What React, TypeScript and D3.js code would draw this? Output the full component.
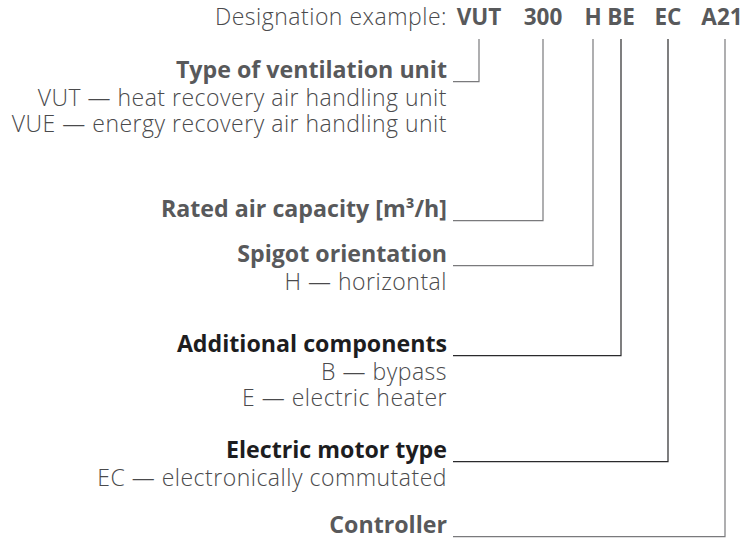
import { useMemo } from "react"
import * as d3 from "d3"

// designation string, split into the parts the connectors point at
const designationLabel = "Designation example:"
const codeParts = ["VUT", "300", "H", "BE", "EC", "A21"]

// one heading per code part, same order
const headings = [
  "Type of ventilation unit",
  "Rated air capacity [m³/h]",
  "Spigot orientation",
  "Additional components",
  "Electric motor type",
  "Controller",
]
const headingTones = ["grey", "grey", "grey", "black", "black", "grey"]
const descriptions = [
  ["VUT — heat recovery air handling unit", "VUE — energy recovery air handling unit"],
  [],
  ["H — horizontal"],
  ["B — bypass", "E — electric heater"],
  ["EC — electronically commutated"],
  [],
]

const W = 748
const H = 539
const layout = {
  textRight: 447,
  lineStart: 453,
  codeBaseline: 25,
  stemTop: 39,
  // x of each code part's centre / stem
  partX: [479, 543, 593, 621, 668, 725],
  // heading baselines
  headingY: [78, 217, 262, 352, 458, 533],
  firstSubGap: 28,
  subGap: 26,
  codeSize: 22.5,
  headSize: 23.2,
  bodySize: 23,
}

const toneColor = d3.scaleOrdinal<string, string>().domain(["grey", "black"]).range(["#58595b", "#1d1d1f"])
const lineColor = d3.scaleOrdinal<string, string>().domain(["grey", "black"]).range(["#7a7a7c", "#2a2a2c"])

export default function App() {
  const connector = useMemo(() => d3.line<[number, number]>(), [])
  const font = "'Open Sans', sans-serif"

  return (
    <svg
      width={W}
      height={H}
      style={{ position: "absolute", left: 0, top: 0, display: "block", background: "#fff" }}
      fontFamily={font}
    >
      <text
        x={layout.textRight}
        y={layout.codeBaseline}
        textAnchor="end"
        fontSize={layout.bodySize}
        fontWeight={300}
        letterSpacing={0.5}
        fill="#4a4a4c"
      >
        {designationLabel}
      </text>
      {codeParts.map((p, i) => (
        <text
          key={p}
          x={layout.partX[i] - (p === "A21" ? 3 : 0)}
          y={layout.codeBaseline}
          textAnchor="middle"
          fontSize={layout.codeSize}
          fontWeight={700}
          fill="#58595b"
        >
          {p}
        </text>
      ))}

      {headings.map((h, i) => {
        const y = layout.headingY[i]
        const lineY = y + 3.7
        const x = layout.partX[i]
        return (
          <g key={h}>
            <path
              d={
                connector([
                  [layout.lineStart, lineY],
                  [x, lineY],
                  [x, layout.stemTop],
                ]) ?? ""
              }
              fill="none"
              stroke={lineColor(headingTones[i])}
              strokeWidth={1.2}
            />
            <text
              x={layout.textRight}
              y={y}
              textAnchor="end"
              fontSize={layout.headSize}
              fontWeight={700}
              fill={toneColor(headingTones[i])}
            >
              {h}
            </text>
            {descriptions[i].map((d, j) => (
              <text
                key={d}
                x={layout.textRight}
                y={y + layout.firstSubGap + j * layout.subGap}
                textAnchor="end"
                fontSize={layout.bodySize}
                fontWeight={300}
                letterSpacing={0.5}
                fill="#4a4a4c"
              >
                {d}
              </text>
            ))}
          </g>
        )
      })}
    </svg>
  )
}
